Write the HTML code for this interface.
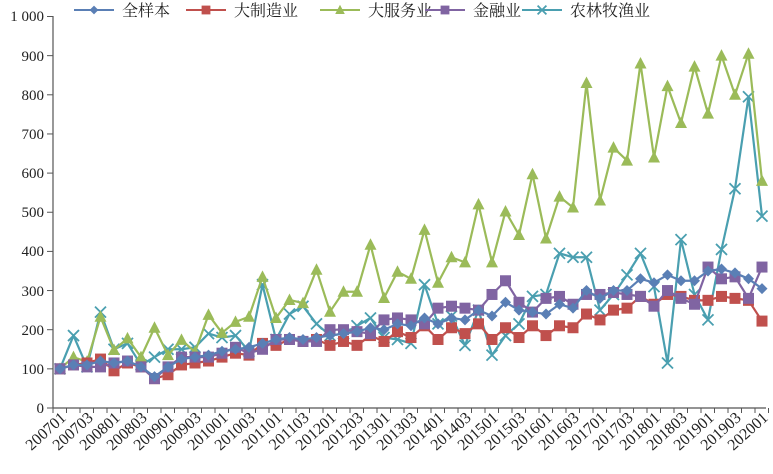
<!DOCTYPE html>
<html><head><meta charset="utf-8"><style>
html,body{margin:0;padding:0;background:#fff;}
svg{display:block;font-family:"Liberation Serif","Noto Serif CJK SC",serif;}
</style></head><body>
<svg id="c" width="773" height="474" viewBox="0 0 773 474" xmlns="http://www.w3.org/2000/svg">
<g stroke="#555" stroke-width="1.2" fill="none">
<line x1="53" y1="16" x2="53" y2="408"/>
<line x1="53" y1="408" x2="766" y2="408"/>
</g>
<g font-size="15" fill="#222" text-anchor="end">
<text x="44" y="413">0</text>
<text x="44" y="374">100</text>
<text x="44" y="335">200</text>
<text x="44" y="296">300</text>
<text x="44" y="256">400</text>
<text x="44" y="217">500</text>
<text x="44" y="178">600</text>
<text x="44" y="139">700</text>
<text x="44" y="100">800</text>
<text x="44" y="61">900</text>
<text x="44" y="21">1 000</text>
</g>
<g font-size="16" fill="#222" text-anchor="end">
<text transform="translate(67,419) rotate(-42)">200701</text>
<text transform="translate(94,419) rotate(-42)">200703</text>
<text transform="translate(121,419) rotate(-42)">200801</text>
<text transform="translate(148,419) rotate(-42)">200803</text>
<text transform="translate(175,419) rotate(-42)">200901</text>
<text transform="translate(202,419) rotate(-42)">200903</text>
<text transform="translate(229,419) rotate(-42)">201001</text>
<text transform="translate(256,419) rotate(-42)">201003</text>
<text transform="translate(283,419) rotate(-42)">201101</text>
<text transform="translate(310,419) rotate(-42)">201103</text>
<text transform="translate(337,419) rotate(-42)">201201</text>
<text transform="translate(364,419) rotate(-42)">201203</text>
<text transform="translate(391,419) rotate(-42)">201301</text>
<text transform="translate(418,419) rotate(-42)">201303</text>
<text transform="translate(445,419) rotate(-42)">201401</text>
<text transform="translate(472,419) rotate(-42)">201403</text>
<text transform="translate(499,419) rotate(-42)">201501</text>
<text transform="translate(526,419) rotate(-42)">201503</text>
<text transform="translate(553,419) rotate(-42)">201601</text>
<text transform="translate(580,419) rotate(-42)">201603</text>
<text transform="translate(607,419) rotate(-42)">201701</text>
<text transform="translate(634,419) rotate(-42)">201703</text>
<text transform="translate(661,419) rotate(-42)">201801</text>
<text transform="translate(688,419) rotate(-42)">201803</text>
<text transform="translate(715,419) rotate(-42)">201901</text>
<text transform="translate(742,419) rotate(-42)">201903</text>
<text transform="translate(769,419) rotate(-42)">202001</text>
</g>
<g font-size="16" fill="#222" font-family="'Liberation Serif','Noto Serif CJK SC',serif">
<text x="122" y="16">全样本</text>
<text x="234" y="16">大制造业</text>
<text x="368" y="16">大服务业</text>
<text x="473" y="16">金融业</text>
<text x="570" y="16">农林牧渔业</text>
</g>
<g id="g"></g>
</svg>
<script>
var S="http://www.w3.org/2000/svg",g=document.getElementById('g');
function el(n,a){var e=document.createElementNS(S,n);for(var k in a)e.setAttribute(k,a[k]);g.appendChild(e);return e;}
for(var i=0;i<=53;i++){var x=53+13.5*i;el('line',{x1:x,y1:408,x2:x,y2:413,stroke:'#555','stroke-width':1});}
for(var v=0;v<=1000;v+=100){var y=408-v*0.3915;el('line',{x1:47,y1:y,x2:53,y2:y,stroke:'#555','stroke-width':1});}
var D=[
['#4a9fb0','x',[100,185,105,245,150,165,110,130,150,150,155,190,180,185,145,315,175,240,260,215,185,190,210,230,180,175,165,315,215,235,160,250,135,185,215,285,290,395,385,385,250,290,340,395,310,115,430,290,225,405,560,795,490],570],
['#9bbb59','t',[100,130,118,233,148,178,130,205,135,174,143,238,192,220,233,335,230,276,268,353,246,297,297,417,281,348,330,455,320,385,372,520,372,502,442,597,433,540,512,830,530,665,632,880,640,822,728,872,752,900,800,905,580],368],
['#c0504d','s',[100,110,115,125,95,115,105,75,85,110,115,120,130,140,135,165,160,175,170,175,160,170,160,185,170,195,180,210,175,205,190,215,175,205,180,210,185,210,205,240,225,250,255,285,265,290,285,275,275,285,280,275,222],234],
['#8064a2','s',[100,110,105,105,115,120,105,75,105,130,130,130,140,155,140,150,175,175,170,170,200,200,195,190,225,230,225,215,255,260,255,250,290,325,270,245,280,285,265,290,290,295,290,285,260,300,280,265,360,330,335,280,360],473],
['#5a7fb5','d',[100,110,110,120,115,120,105,80,105,125,130,135,145,150,155,165,175,180,175,180,185,190,195,205,200,215,210,230,215,230,225,250,235,270,250,245,240,265,255,300,280,300,300,330,320,340,325,325,350,355,345,330,305],122]
];
function mk(t,c,x,y,s){s=s||1;
 if(t=='s')el('rect',{x:x-5.5*s,y:y-5.5*s,width:11*s,height:11*s,fill:c});
 else if(t=='t')el('polygon',{points:(x)+','+(y-6.5*s)+' '+(x+6*s)+','+(y+5*s)+' '+(x-6*s)+','+(y+5*s),fill:c});
 else if(t=='d')el('polygon',{points:x+','+(y-5.5*s)+' '+(x+5.5*s)+','+y+' '+x+','+(y+5.5*s)+' '+(x-5.5*s)+','+y,fill:c});
 else {el('path',{d:'M'+(x-5.5*s)+' '+(y-5.5*s)+'L'+(x+5.5*s)+' '+(y+5.5*s)+'M'+(x+5.5*s)+' '+(y-5.5*s)+'L'+(x-5.5*s)+' '+(y+5.5*s),stroke:c,'stroke-width':1.8,fill:'none'});}
}
D.forEach(function(s){
 var p=s[2].map(function(v,i){return [60+13.5*i,408-v*0.3915];});
 el('polyline',{points:p.map(function(q){return q.join(',')}).join(' '),fill:'none',stroke:s[0],'stroke-width':2.2,'stroke-linejoin':'round'});
 p.forEach(function(q){mk(s[1],s[0],q[0],q[1]);});
 var lx=s[3]-8;
 el('line',{x1:lx-40,y1:10,x2:lx,y2:10,stroke:s[0],'stroke-width':2});
 mk(s[1],s[0],lx-20,10,0.8);
});
</script>
</body></html>
